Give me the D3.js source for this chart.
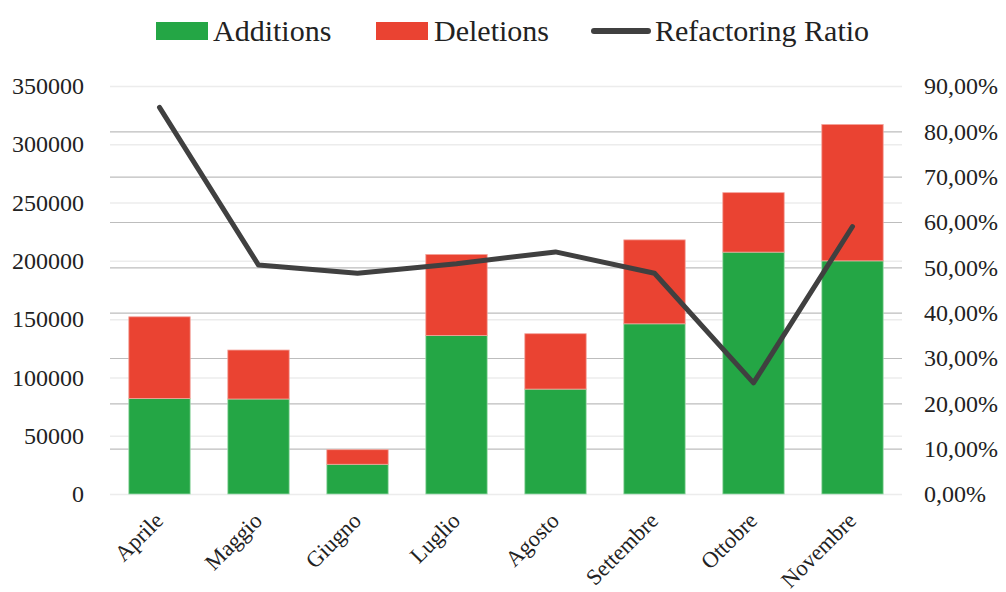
<!DOCTYPE html>
<html><head><meta charset="utf-8">
<script src="https://cdn.jsdelivr.net/npm/d3@7"></script>
<style>body{margin:0;background:#fff}svg{display:block}text{font-family:"Liberation Serif","DejaVu Serif",serif;fill:#222}</style>
</head><body><svg id="c" width="1006" height="592"></svg>
<script>
const months = ["Aprile","Maggio","Giugno","Luglio","Agosto","Settembre","Ottobre","Novembre"];
const additions = [82000, 81500, 25500, 136000, 90000, 146000, 207500, 200000];
const deletions = [70000, 42000, 12500, 69500, 47500, 72000, 51000, 117000];
const ratio = [0.853, 0.505, 0.487, 0.508, 0.534, 0.487, 0.245, 0.590];
const leftTicks = [0,50000,100000,150000,200000,250000,300000,350000];
const rightTicks = [0,0.1,0.2,0.3,0.4,0.5,0.6,0.7,0.8,0.9];
const seriesNames = ["Additions","Deletions","Refactoring Ratio"];

const svg = d3.select("#c");
const L = 110, R = 902, T = 86, B = 494;
const x = d3.scaleBand().domain(months).range([L,R]).paddingInner(0.38).paddingOuter(0.19);
const yL = d3.scaleLinear().domain([0,350000]).range([B,T]);
const yR = d3.scaleLinear().domain([0,0.9]).range([B,T]);
const green = "#24A645", red = "#EA4332", dark = "#404040";

// gridlines (left axis lighter, right axis darker)
svg.append("g").selectAll("line").data(leftTicks).join("line")
  .attr("x1",L).attr("x2",R).attr("y1",d=>yL(d)+0.5).attr("y2",d=>yL(d)+0.5)
  .attr("stroke","#ececec").attr("stroke-width",1.5);
svg.append("g").selectAll("line").data(rightTicks.slice(1,-1)).join("line")
  .attr("x1",L).attr("x2",R).attr("y1",d=>yR(d)+0.5).attr("y2",d=>yR(d)+0.5)
  .attr("stroke","#bdbdbd").attr("stroke-width",1.2);

// axes
const fmtPct = d => d3.format(".2f")(d*100).replace(".",",") + "%";
const gL = svg.append("g").attr("transform",`translate(${L-26},0)`)
  .call(d3.axisLeft(yL).tickValues(leftTicks).tickSize(0).tickPadding(0).tickFormat(d=>String(d)));
const gR = svg.append("g").attr("transform",`translate(${R+22},0)`)
  .call(d3.axisRight(yR).tickValues(rightTicks).tickSize(0).tickPadding(0).tickFormat(fmtPct));
[gL,gR].forEach(g=>{g.select(".domain").remove();
  g.selectAll("text").attr("font-size",24).attr("font-family","Liberation Serif").attr("fill","#222");});

// stacked bars
const bw = x.bandwidth();
const bars = svg.append("g");
bars.selectAll("rect.a").data(months).join("rect").attr("class","a")
  .attr("x",d=>x(d)).attr("width",bw)
  .attr("y",(d,i)=>yL(additions[i])).attr("height",(d,i)=>yL(0)-yL(additions[i]))
  .attr("fill",green).attr("stroke","#9fdcae").attr("stroke-width",0.8);
bars.selectAll("rect.d").data(months).join("rect").attr("class","d")
  .attr("x",d=>x(d)).attr("width",bw)
  .attr("y",(d,i)=>yL(additions[i]+deletions[i])).attr("height",(d,i)=>yL(additions[i])-yL(additions[i]+deletions[i]))
  .attr("fill",red).attr("stroke","#f4a39b").attr("stroke-width",0.8);

// line
const line = d3.line().x((d,i)=>x(months[i])+bw/2).y(d=>yR(d));
svg.append("path").datum(ratio).attr("d",line).attr("fill","none")
  .attr("stroke",dark).attr("stroke-width",5).attr("stroke-linejoin","round").attr("stroke-linecap","round");

// x labels
svg.append("g").selectAll("text").data(months).join("text")
  .attr("transform",d=>`translate(${x(d)+bw/2+5},${B+28}) rotate(-45)`)
  .attr("text-anchor","end").attr("font-size",22.5).text(d=>d);

// legend
const lg = svg.append("g");
lg.append("rect").attr("x",156).attr("y",22).attr("width",52).attr("height",18).attr("fill",green);
lg.append("rect").attr("x",376).attr("y",22).attr("width",52).attr("height",18).attr("fill",red);
lg.append("line").attr("x1",594).attr("x2",648).attr("y1",31).attr("y2",31)
  .attr("stroke",dark).attr("stroke-width",6).attr("stroke-linecap","round");
lg.selectAll("text").data(seriesNames).join("text")
  .attr("x",(d,i)=>[213,434,655][i]).attr("y",41).attr("font-size",30).text(d=>d);
</script></body></html>
